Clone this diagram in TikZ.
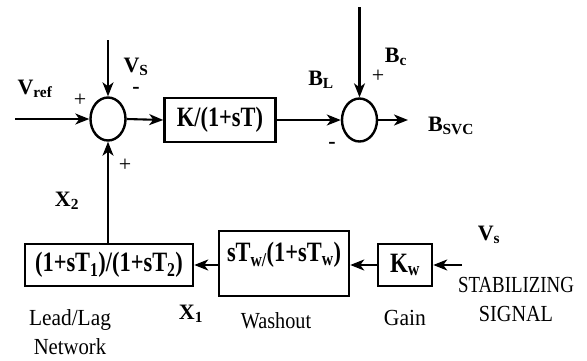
\documentclass[tikz,border=0pt]{standalone}
\usepackage{fontspec}
\setmainfont{Liberation Serif}
\usetikzlibrary{arrows.meta,shapes.geometric}
\newcommand\hs[2]{\scalebox{#1}[1]{#2}}
\newcommand\sbb[1]{\textsubscript{\bfseries #1}}
\tikzset{
  arr/.style={line width=2.1pt,-{Stealth[length=14pt,width=11pt,inset=4pt]}},
  sumnode/.style={ellipse,draw,line width=2.4pt,minimum width=35pt,minimum height=43pt,inner sep=0pt},
  blk/.style={draw,line width=2.5pt,inner sep=0pt,font=\bfseries\fontsize{28}{30}\selectfont},
  lbl/.style={inner sep=0pt,font=\bfseries\fontsize{22}{24}\selectfont},
  sgn/.style={inner sep=0pt,font=\fontsize{22}{24}\selectfont},
  desc/.style={inner sep=0pt,align=center,font=\fontsize{23}{29}\selectfont}
}
\begin{document}
\begin{tikzpicture}[x=1pt,y=-1pt]
\path[use as bounding box,fill=white] (0,0) rectangle (587,360);
% summing junctions
\node[sumnode] (s1) at (108,119) {};
\node[sumnode] (s2) at (359.5,120) {};
% blocks
\node[blk,minimum width=111pt,minimum height=44pt] (K) at (220,120) {\hs{0.8}{K/(1+sT)}};
\node[blk,minimum width=168pt,minimum height=42pt] (LL) at (109,265) {\hs{0.8}{(1+sT\sbb{1})/(1+sT\sbb{2})}};
\node[blk,minimum width=130pt,minimum height=65pt] (W) at (284,263.5) {};
\node[lbl,font=\bfseries\fontsize{28}{30}\selectfont] (Wt) at (284,255) {\hs{0.8}{sT\sbb{w/}(1+sT\sbb{w})}};
\node[blk,minimum width=54pt,minimum height=42pt] (Kw) at (405,265) {\hs{0.82}{K\sbb{w}}};
% free ends
\coordinate (vin) at (15,119);
\coordinate (vsin) at (108,40);
\coordinate (bcin) at (359.5,7);
\coordinate (bout) at (408,120);
\coordinate (sin) at (462,265);
% connectors
\draw[arr] (vin) -- (s1.west);
\draw[arr] (vsin) -- (s1.north);
\draw[arr] (s1.east) -- (K.west);
\draw[arr] (K.east) -- (s2.west);
\draw[arr] (bcin) -- (s2.north);
\draw[arr] (s2.east) -- (bout);
\draw[arr] (s1.south |- LL.north) -- (s1.south);
\draw[arr] (W.west |- LL.east) -- (LL.east);
\draw[arr] (Kw.west) -- (Kw.west -| W.east);
\draw[arr] (sin) -- (Kw.east);
% labels
\node[lbl] (lvref) at (35,89) {V\sbb{ref}};
\node[sgn] (p1) at (80,100) {+};
\node[lbl] (lvs) at (136,67) {V\sbb{S}};
\node[lbl] (m1) at (136,90) {-};
\node[sgn] (p2) at (125,165) {+};
\node[lbl] (lbl) at (321,80) {B\sbb{L}};
\node[sgn] (p3) at (378,76) {+};
\node[lbl] (lbc) at (396,57) {B\sbb{c}};
\node[lbl] (m2) at (332,145) {-};
\node[lbl] (lbsvc) at (451,126) {B\sbb{SVC}};
\node[lbl] (lx2) at (67,201) {X\sbb{2}};
\node[lbl] (lx1) at (191,314) {X\sbb{1}};
\node[lbl] (lvs2) at (489,235) {V\sbb{s}};
\node[desc] (dll) at (70,332) {\hs{0.93}{Lead/Lag}\\\hs{0.9}{Network}};
\node[desc] (dwo) at (276,321) {\hs{0.88}{Washout}};
\node[desc] (dg) at (405,318) {\hs{0.94}{Gain}};
\node[desc] (dss) at (516,299) {\hs{0.82}{STABILIZING}\\\hs{0.88}{SIGNAL}};
\end{tikzpicture}
\end{document}
